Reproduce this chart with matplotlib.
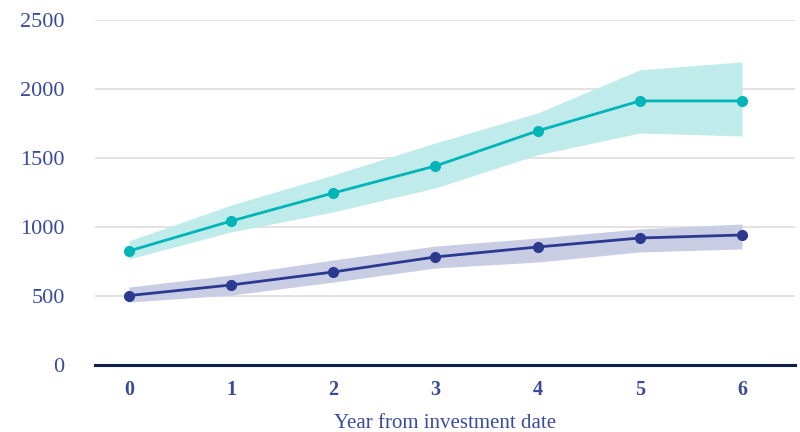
"""Recreates the investment growth chart with uncertainty bands."""

import matplotlib

matplotlib.use("Agg")
import matplotlib.pyplot as plt

# data
years = [0, 1, 2, 3, 4, 5, 6]

upper_series = [826, 1043, 1246, 1442, 1696, 1913, 1913]
upper_high = [899, 1159, 1377, 1609, 1826, 2138, 2196]
upper_low = [768, 964, 1109, 1283, 1522, 1681, 1659]

lower_series = [503, 580, 674, 783, 855, 920, 942]
lower_high = [565, 652, 761, 862, 920, 986, 1022]
lower_low = [456, 507, 601, 703, 746, 819, 841]

y_ticks = [0, 500, 1000, 1500, 2000, 2500]

TEAL = "#00B5B8"
TEAL_FILL = "#C0EBEB"
NAVY = "#2B3990"
NAVY_FILL = "#C9CDE3"
TEXT = "#3A4A9C"

plt.rcParams["font.family"] = ["Liberation Serif", "DejaVu Serif"]

fig = plt.figure(figsize=(8, 4.32), dpi=100)
ax = fig.add_axes([0.119, 0.155, 0.875, 0.799])

ax.fill_between(years, upper_low, upper_high, color=TEAL_FILL, linewidth=0, zorder=2)
ax.fill_between(years, lower_low, lower_high, color=NAVY_FILL, linewidth=0, zorder=2)
ax.plot(years, upper_series, color=TEAL, linewidth=2, marker="o", markersize=7, zorder=4)
ax.plot(years, lower_series, color=NAVY, linewidth=2, marker="o", markersize=7, zorder=4)

for val in y_ticks[1:]:
    ax.axhline(val, color="#DDDDDD", linewidth=1.2, zorder=1)
ax.axhline(0, color="#0E1E45", linewidth=2.2, zorder=5, clip_on=False)

ax.set_xlim(-0.33, 6.52)
ax.set_ylim(0, 2500)
ax.set_yticks(y_ticks)
ax.set_xticks(years)
ax.set_xticklabels([str(y) for y in years], fontweight="bold")
ax.tick_params(axis="y", length=0, pad=22, labelsize=16, labelcolor=TEXT)
ax.tick_params(axis="x", length=0, pad=11, labelsize=14.5, labelcolor=TEXT)
for side in ["top", "right", "left", "bottom"]:
    ax.spines[side].set_visible(False)

ax.set_xlabel("Year from investment date", fontsize=15, color=TEXT, labelpad=10)

fig.savefig("out.png", dpi=100)
